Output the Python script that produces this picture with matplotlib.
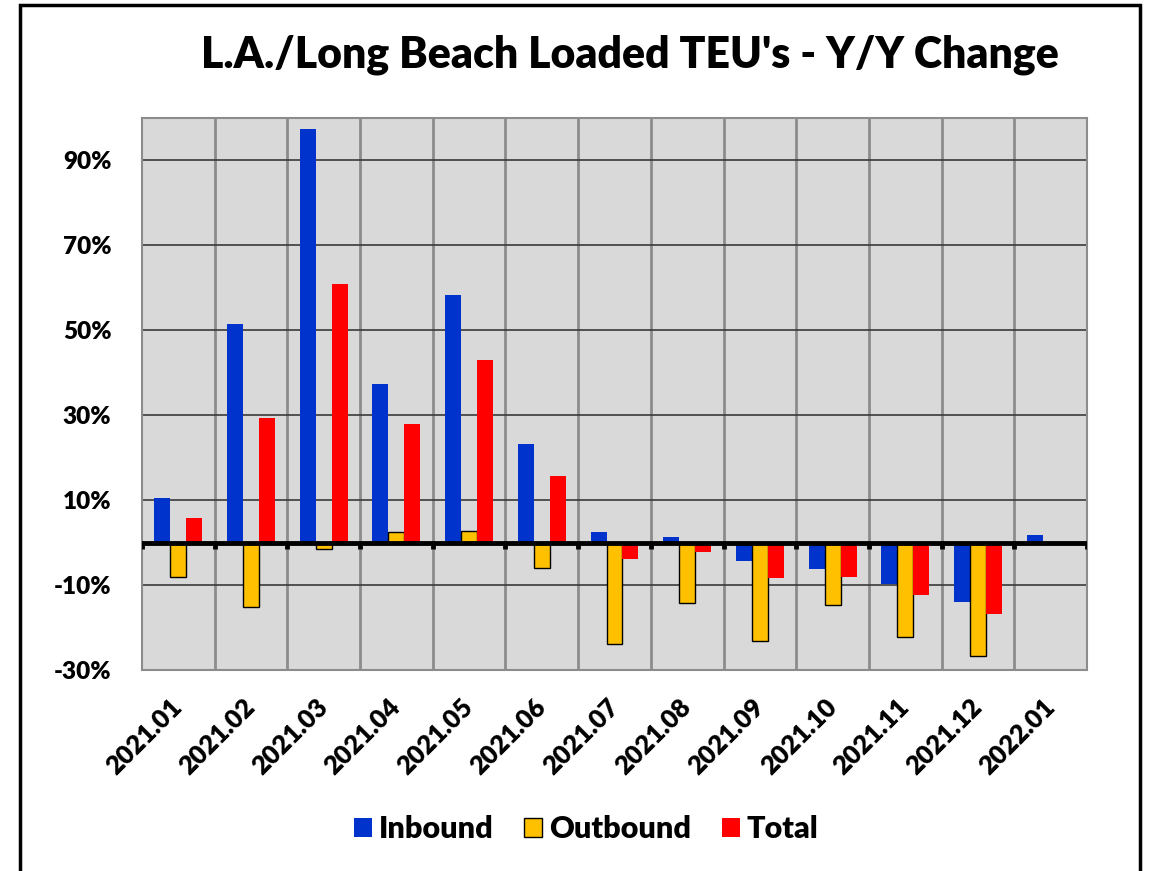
import numpy as np
import matplotlib
matplotlib.use("Agg")
import matplotlib.pyplot as plt
from matplotlib.patches import Rectangle, Patch
from matplotlib.ticker import FuncFormatter

plt.rcParams['font.family'] = ['Lato', 'DejaVu Sans']
plt.rcParams['font.weight'] = 'heavy'

months = ['2021.01', '2021.02', '2021.03', '2021.04', '2021.05', '2021.06', '2021.07',
          '2021.08', '2021.09', '2021.10', '2021.11', '2021.12', '2022.01']
inbound = [10.6, 51.6, 97.5, 37.3, 58.2, 23.2, 2.4, 1.4, -4.4, -6.2, -9.8, -14.1, 1.8]
outbound = [-8.2, -15.1, -1.4, 2.5, 2.7, -6.0, -23.9, -14.2, -23.2, -14.7, -22.2, -26.6, np.nan]
total = [5.8, 29.3, 60.8, 27.9, 42.9, 15.6, -3.9, -2.1, -8.4, -8.0, -12.4, -16.9, np.nan]
yticks = [-30, -10, 10, 30, 50, 70, 90]

c_in, c_out, c_tot = '#0033cc', '#ffc000', '#ff0000'
W = 'heavy'

fig = plt.figure(figsize=(11.53, 8.71), dpi=100)
ax = fig.add_axes([142/1153, 1-670/871, 945/1153, 552/871])
ax.set_facecolor('#d9d9d9')

x = np.arange(len(months))
w = 0.22
ax.bar(x - w, inbound, w, color=c_in, zorder=3)
ax.bar(x, outbound, w, color=c_out, edgecolor='black', linewidth=1, zorder=3)
ax.bar(x + w, total, w, color=c_tot, zorder=3)

ax.set_xlim(-0.5, len(months) - 0.5)
ax.set_ylim(-30, 100)

# grid
ax.set_yticks(yticks)
ax.yaxis.set_major_formatter(FuncFormatter(lambda v, p: f'{v:.0f}%'))
ax.grid(axis='y', color='#3a3a3a', linewidth=1.2, zorder=1)
bounds = np.arange(len(months) + 1) - 0.5
for b in bounds[1:-1]:
    ax.axvline(b, color='#8c8c8c', linewidth=2, zorder=1)

# zero line with small ticks
ax.axhline(0, color='black', linewidth=3.5, zorder=4)
ax.vlines(bounds, -1.5, 0, color='black', linewidth=3.5, zorder=4)

for s in ax.spines.values():
    s.set_linestyle((0, (1, 1)))
    s.set_color('#8c8c8c')
    s.set_linewidth(1.5)

ax.tick_params(axis='y', length=0, pad=22, labelsize=17.5)
ax.set_xticks(x)
ax.set_xticklabels(months, rotation=45, ha='right', va='center', rotation_mode='anchor',
                   fontsize=18.5)
ax.tick_params(axis='x', length=0, pad=24)
for lab in ax.get_xticklabels() + ax.get_yticklabels():
    lab.set_fontweight(W)

fig.text(630/1153, 1-55/871, "L.A./Long Beach Loaded TEU's - Y/Y Change",
         ha='center', va='center', fontsize=30.8, fontweight=W)

handles = [Patch(facecolor=c_in), Patch(facecolor=c_out, edgecolor='black', linewidth=1),
           Patch(facecolor=c_tot)]
fig.legend(handles, ['Inbound', 'Outbound', 'Total'], loc='center', ncol=3,
           bbox_to_anchor=(586/1153, 1-829/871), frameon=False,
           prop={'size': 22, 'weight': W}, handlelength=0.6, handleheight=0.6,
           handletextpad=0.22, columnspacing=1.0)

fig.add_artist(Rectangle((20/1153, -0.05), 1120/1153, 1.05 - 5/871, transform=fig.transFigure,
                         fill=False, edgecolor='black', linewidth=2.5))

fig.savefig('out.png', dpi=100)
